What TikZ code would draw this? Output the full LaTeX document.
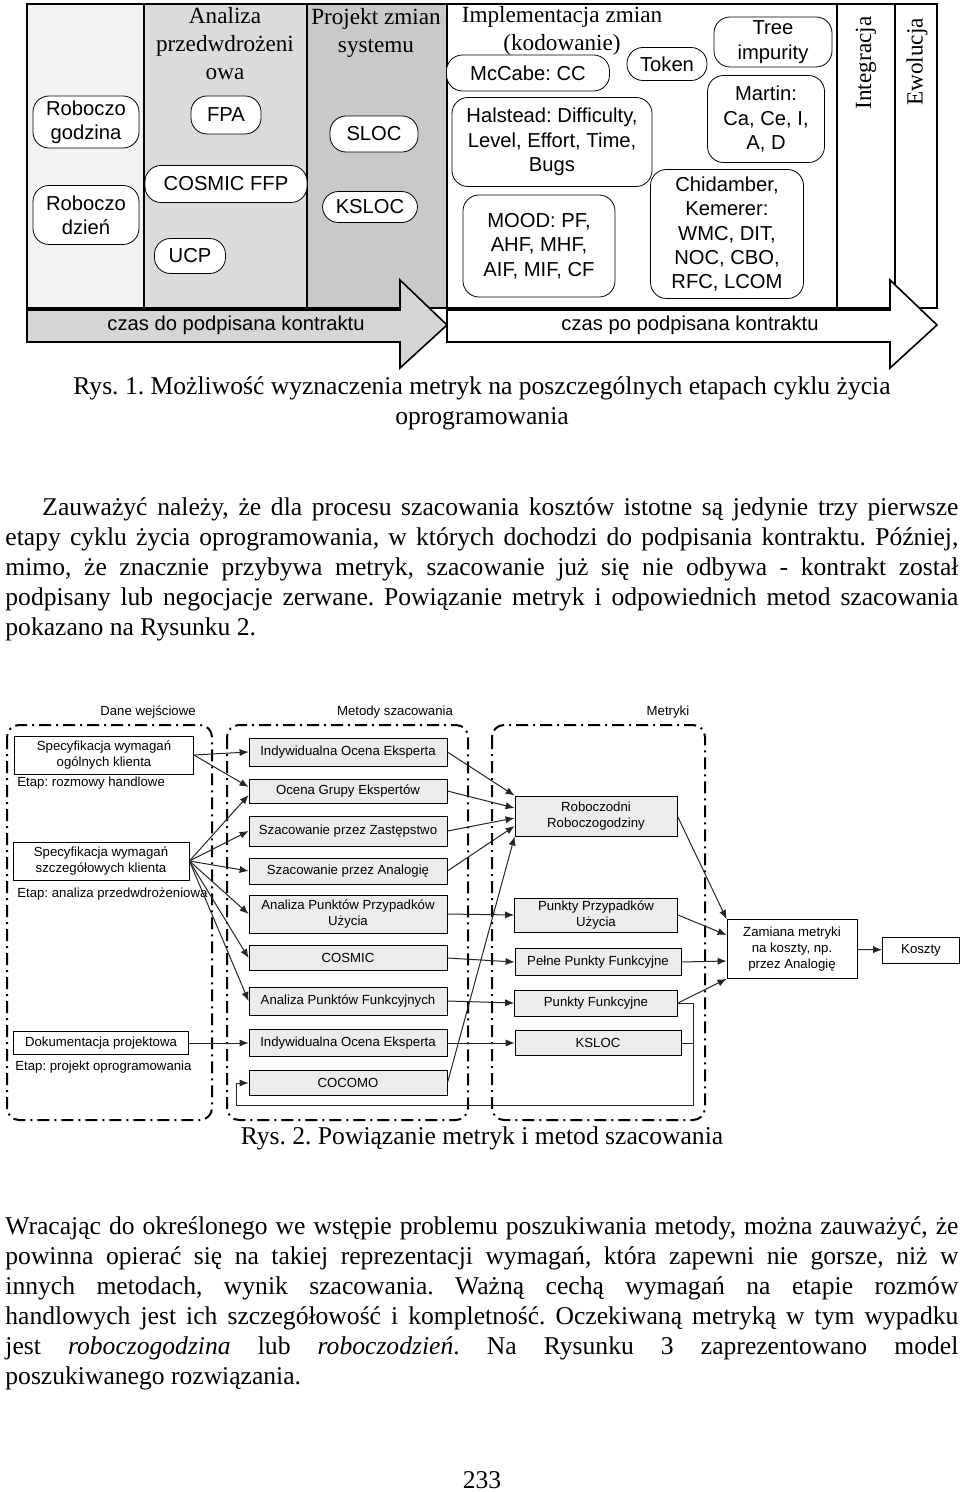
\documentclass[tikz,border=0pt]{standalone}
\usepackage{fontspec}
\setmainfont{Liberation Serif}
\setsansfont{Liberation Sans}
\usetikzlibrary{arrows.meta}
\frenchspacing
\newcommand{\jline}[1]{\makebox[476.5pt][s]{#1}}

\begin{document}
\begin{tikzpicture}[x=0.5pt,y=-0.5pt,>={Latex[length=4.5pt,width=3.6pt]},
  rbox/.style={draw,rounded corners=8pt,fill=white,align=center,inner sep=0pt,font=\sffamily\fontsize{10.1}{12.2}\selectfont},
  hd/.style={align=center,inner sep=0pt,font=\fontsize{11.6}{14}\selectfont},
  tbox/.style={draw,fill=white,align=center,inner sep=0pt,font=\sffamily\fontsize{6.6}{8}\selectfont},
  mbox/.style={tbox,fill=gray!15},
  grp/.style={line width=1pt,rounded corners=6pt,dash pattern=on 6pt off 2.5pt on 1pt off 2.5pt},
  lbl/.style={inner sep=0pt,font=\sffamily\fontsize{6.6}{8}\selectfont},
  arr/.style={->,black!85,line width=0.5pt},
  body/.style={align=left,inner sep=0pt,font=\fontsize{12.8}{15}\selectfont}]

\useasboundingbox (0,0) rectangle (960,1492);

% Rys. 1: columns
\fill[gray!10] (27,4) rectangle (144,308);
\fill[gray!28] (144,4) rectangle (307,308);
\fill[gray!42] (307,4) rectangle (447,308);
\draw[line width=1pt] (27,4) rectangle (937,308);
\foreach \x in {144,307,447,837,895}
  \draw[line width=0.8pt] (\x,4) -- (\x,308);

% Rys. 1: headings
\node[hd] (hAnaliza) at (225,44) {Analiza\\przedwdrożeni\\owa};
\node[hd] (hProjekt) at (376,33) {Projekt zmian\\systemu};
\node[hd] (hImpl) at (562,31) {Implementacja zmian\\(kodowanie)};
\node[hd,rotate=90] (hInt) at (866,63) {Integracja};
\node[hd,rotate=90] (hEwo) at (917,62) {Ewolucja};

% Rys. 1: metrics
\node[rbox,minimum width=53pt,minimum height=26pt] (rGodz) at (86,122) {Roboczo\\godzina};
\node[rbox,minimum width=53pt,minimum height=29.5pt] (rDzien) at (86,215) {Roboczo\\dzień};
\node[rbox,minimum width=35pt,minimum height=19pt] (rFpa) at (226,115) {FPA};
\node[rbox,minimum width=81pt,minimum height=18.5pt] (rCosmic) at (226,184) {COSMIC FFP};
\node[rbox,minimum width=35.5pt,minimum height=17.5pt] (rUcp) at (190,256) {UCP};
\node[rbox,minimum width=44pt,minimum height=18pt] (rSloc) at (374,134) {SLOC};
\node[rbox,minimum width=47.5pt,minimum height=15.5pt] (rKsloc) at (370,207) {KSLOC};
\node[rbox,minimum width=81.5pt,minimum height=18pt] (rMcCabe) at (528,73) {McCabe: CC};
\node[rbox,minimum width=40pt,minimum height=16.5pt] (rToken) at (667,64) {Token};
\node[rbox,minimum width=59pt,minimum height=25pt] (rTree) at (773,42) {Tree\\impurity};
\node[rbox,minimum width=100pt,minimum height=44.5pt] (rHalstead) at (552,142) {Halstead: Difficulty,\\Level, Effort, Time,\\Bugs};
\node[rbox,minimum width=58.5pt,minimum height=43.5pt] (rMartin) at (766,119) {Martin:\\Ca, Ce, I,\\A, D};
\node[rbox,minimum width=76pt,minimum height=51pt] (rMood) at (539,246) {MOOD: PF,\\AHF, MHF,\\AIF, MIF, CF};
\node[rbox,minimum width=76.5pt,minimum height=64.5pt] (rChid) at (727,234) {Chidamber,\\Kemerer:\\WMC, DIT,\\NOC, CBO,\\RFC, LCOM};

% Rys. 1: time arrows
\draw[line width=0.8pt,fill=gray!33] (27,310) -- (400,310) -- (400,280) -- (447,325)
  -- (400,368) -- (400,342) -- (27,342) -- cycle;
\node[font=\sffamily\fontsize{10.1}{12}\selectfont] (tDo) at (236,325) {czas do podpisana kontraktu};
\draw[line width=0.8pt,fill=white] (447,310) -- (890,310) -- (890,280) -- (937,325)
  -- (890,368) -- (890,342) -- (447,342) -- cycle;
\node[font=\sffamily\fontsize{10.1}{12}\selectfont] (tPo) at (690,325) {czas po podpisana kontraktu};

% Caption 1
\node[align=center,font=\fontsize{12.8}{15}\selectfont] (cap1) at (482,403)
  {Rys. 1. Możliwość wyznaczenia metryk na poszczególnych etapach cyklu życia\\oprogramowania};

% Paragraph 1
\node[body,anchor=north west] (par1) at (5,497) {%
\hspace*{18.5pt}\makebox[458pt][s]{Zauważyć należy, że dla procesu szacowania kosztów istotne są jedynie trzy pierwsze}\\
\jline{etapy cyklu życia oprogramowania, w których dochodzi do podpisania kontraktu. Później,}\\
\jline{mimo, że znacznie przybywa metryk, szacowanie już się nie odbywa - kontrakt został}\\
\jline{podpisany lub negocjacje zerwane. Powiązanie metryk i odpowiednich metod szacowania}\\
pokazano na Rysunku 2.};

% Rys. 2: groups
\draw[grp] (7,725) rectangle (212,1120);
\draw[grp] (227,725) rectangle (468,1120);
\draw[grp] (492,725) rectangle (705,1120);
\node[lbl] (lDane) at (148,712) {Dane wejściowe};
\node[lbl] (lMetody) at (395,712) {Metody szacowania};
\node[lbl] (lMetryki) at (668,712) {Metryki};

% Rys. 2: inputs
\node[tbox,minimum width=89.5pt,minimum height=19pt] (spec1) at (104,755) {Specyfikacja wymagań\\ogólnych klienta};
\node[lbl,anchor=west] (etap1) at (17,783) {Etap: rozmowy handlowe};
\node[tbox,minimum width=88pt,minimum height=19pt] (spec2) at (101,861) {Specyfikacja wymagań\\szczegółowych klienta};
\node[lbl,anchor=west] (etap2) at (17,894) {Etap: analiza przedwdrożeniowa};
\node[tbox,minimum width=87.5pt,minimum height=11.5pt] (dok) at (101,1043) {Dokumentacja projektowa};
\node[lbl,anchor=west] (etap3) at (15,1067) {Etap: projekt oprogramowania};

% Rys. 2: methods
\node[mbox,minimum width=99pt,minimum height=14pt] (m1) at (348,752) {Indywidualna Ocena Eksperta};
\node[mbox,minimum width=99pt,minimum height=12pt] (m2) at (348,791) {Ocena Grupy Ekspertów};
\node[mbox,minimum width=99pt,minimum height=15pt] (m3) at (348,831) {Szacowanie przez Zastępstwo};
\node[mbox,minimum width=99pt,minimum height=13pt] (m4) at (348,871) {Szacowanie przez Analogię};
\node[mbox,minimum width=99pt,minimum height=19pt] (m5) at (348,914) {Analiza Punktów Przypadków\\Użycia};
\node[mbox,minimum width=99pt,minimum height=12.5pt] (m6) at (348,958) {COSMIC};
\node[mbox,minimum width=99pt,minimum height=14pt] (m7) at (348,1001) {Analiza Punktów Funkcyjnych};
\node[mbox,minimum width=99pt,minimum height=13.5pt] (m8) at (348,1043) {Indywidualna Ocena Eksperta};
\node[mbox,minimum width=99pt,minimum height=12.5pt] (m9) at (348,1083) {COCOMO};

% Rys. 2: metrics
\node[mbox,minimum width=81pt,minimum height=20pt] (r1) at (596,816) {Roboczodni\\Roboczogodziny};
\node[mbox,minimum width=81.5pt,minimum height=17pt] (r2) at (596,915) {Punkty Przypadków\\Użycia};
\node[mbox,minimum width=83pt,minimum height=13.5pt] (r3) at (598,962) {Pełne Punkty Funkcyjne};
\node[mbox,minimum width=81.5pt,minimum height=13pt] (r4) at (596,1003) {Punkty Funkcyjne};
\node[mbox,minimum width=83pt,minimum height=12.5pt] (r5) at (598,1043) {KSLOC};
\node[tbox,minimum width=65pt,minimum height=29.5pt] (zam) at (792,949) {Zamiana metryki\\na koszty, np.\\przez Analogię};
\node[tbox,minimum width=38.5pt,minimum height=13pt] (koszty) at (921,950) {Koszty};

% Rys. 2: inputs -> methods
\draw[arr] (spec1.east) -- (m1.west);
\draw[arr] (spec1.east) -- ([yshift=2pt]m2.west);
\draw[arr] (spec2.east) -- ([yshift=-2pt]m2.west);
\foreach \t in {m3,m4,m5,m6,m7}
  \draw[arr] (spec2.east) -- (\t.west);
\draw[arr] (dok) -- (m8);

% Rys. 2: methods -> metrics
\draw[arr] (m1.east) -- (r1.north west);
\draw[arr] (m2.east) -- ([yshift=4pt]r1.west);
\draw[arr] (m3.east) -- ([yshift=-1pt]r1.west);
\draw[arr] (m4.east) -- ([yshift=-5pt]r1.west);
\draw[arr] (m9.east) -- (r1.south west);
\draw[arr] (m5.east) -- (r2.west);
\draw[arr] (m6.east) -- (r3.west);
\draw[arr] (m7.east) -- (r4.west);
\draw[arr] (m8.east) -- (r5.west);

% Rys. 2: loop back to COCOMO
\coordinate (loopR) at (693,1105);
\coordinate (loopL) at (236,1105);
\draw[arr] (r4.east) -| (loopR) -- (loopL) |- (m9.west);
\draw[black!85,line width=0.5pt] (r5.east) -- (r5.east -| loopR);

% Rys. 2: metrics -> costs
\draw[arr] (r1.east) -- (zam.north west);
\draw[arr] (r2.east) -- ([yshift=7pt]zam.west);
\draw[arr] (r3.east) -- ([yshift=-6pt]zam.west);
\draw[arr] (r4.east) -- (zam.south west);
\draw[arr] (zam) -- (koszty);

% Caption 2
\node[font=\fontsize{12.8}{15}\selectfont] (cap2) at (482,1138) {Rys. 2. Powiązanie metryk i metod szacowania};

% Paragraph 2
\node[body,anchor=north west] (par2) at (5,1216) {%
\jline{Wracając do określonego we wstępie problemu poszukiwania metody, można zauważyć, że}\\
\jline{powinna opierać się na takiej reprezentacji wymagań, która zapewni nie gorsze, niż w}\\
\jline{innych metodach, wynik szacowania. Ważną cechą wymagań na etapie rozmów}\\
\jline{handlowych jest ich szczegółowość i kompletność. Oczekiwaną metryką w tym wypadku}\\
\jline{jest \textit{roboczogodzina} lub \textit{roboczodzień}. Na Rysunku 3 zaprezentowano model}\\
poszukiwanego rozwiązania.};

% Page number
\node[font=\fontsize{12.8}{15}\selectfont] (page) at (482,1480) {233};

\end{tikzpicture}
\end{document}
